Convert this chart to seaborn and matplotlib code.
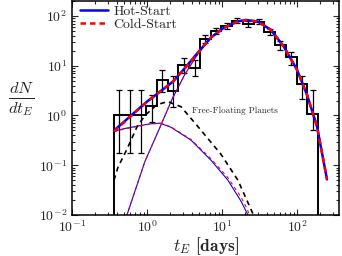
import numpy as np
import matplotlib
matplotlib.use("Agg")
import matplotlib.pyplot as plt
from matplotlib.ticker import FuncFormatter
import seaborn as sns

# binned event-timescale distribution (t_E in days)
bin_edges = [0.363, 0.505, 0.702, 0.977, 1.36, 1.89, 2.62, 3.65, 5.08, 7.06,
             9.82, 13.6, 19.0, 26.4, 36.7, 51.1, 71.0, 98.6, 137, 191]
hist_vals = [1.0, 1.0, 1.0, 1.53, 5.2, 3.06, 10.5, 9.1, 34.7, 50,
             63, 80, 69, 77, 48.5, 26, 15, 4.2, 1.05]
err_lo = [0.18, 0.18, 0.18, 0.75, 3.0, 1.45, 7.0, 6.3, 28, 43,
          55, 71, 61, 68, 42, 21, 10.5, 2.1, 0.52]
err_hi = [3.3, 3.3, 3.3, 2.6, 8.3, 6.1, 14.5, 13, 42, 58,
          71, 89, 78, 86, 56, 31, 19.3, 6.1, 3.3]

# total model
t_tot = [0.363, 0.5, 0.7, 1.0, 1.4, 2.22, 3.21, 4.79, 7.13, 10.6, 16.3,
         20.9, 30.2, 45, 67, 100, 136, 185, 251]
hot_tot = [0.50, 0.76, 1.19, 1.9, 2.8, 4.8, 9.0, 18.5, 37, 58, 78,
           83, 77, 52.5, 24, 8.3, 2.6, 0.60, 0.052]
cold_tot = [0.48, 0.74, 1.17, 1.88, 2.8, 4.8, 9.0, 18.5, 37, 58, 78,
            83, 77, 52.5, 24, 8.3, 2.6, 0.60, 0.052]

# stellar lenses
t_star = [0.45, 0.54, 0.94, 1.49, 2.15, 3.21, 4.79, 7.13, 10.6, 16.3,
          20.9, 30.2, 45, 67, 100, 136, 185, 251]
star = [0.004, 0.01, 0.12, 0.58, 2.1, 6.8, 17.5, 36.8, 57.5, 77.5,
        82.5, 76.5, 52, 24, 8.3, 2.6, 0.6, 0.052]

# low-mass component, hot / cold
t_low = [0.363, 0.51, 0.74, 1.1, 1.49, 2.09, 3.86, 7.13, 12.0, 17.9, 21.5, 25]
hot_low = [0.485, 0.55, 0.61, 0.68, 0.70, 0.58, 0.32, 0.126, 0.05, 0.019, 0.011, 0.006]
cold_low = [0.47, 0.54, 0.60, 0.67, 0.70, 0.59, 0.33, 0.135, 0.056, 0.023, 0.0135, 0.0075]

# free-floating planets
t_ffp = [0.363, 0.41, 0.54, 0.74, 0.94, 1.36, 1.9, 2.84, 4.64, 9.7, 16.3, 25.9, 30]
ffp = [0.05, 0.091, 0.21, 0.6, 1.0, 1.66, 1.9, 1.5, 0.63, 0.166, 0.05, 0.0105, 0.005]

sns.set_style("ticks")
plt.rcParams["font.family"] = ["cmr10", "DejaVu Serif"]
plt.rcParams["mathtext.fontset"] = "cm"
plt.rcParams["axes.formatter.use_mathtext"] = True

fig = plt.figure(figsize=(3.42, 2.56), dpi=100)
ax = fig.add_axes([72 / 342, 41 / 256, 267 / 342, 214 / 256])

# histogram + error bars
ax.stairs(hist_vals, bin_edges, baseline=1e-4, color="k", lw=1.4)
edges = np.array(bin_edges)
centers = np.sqrt(edges[:-1] * edges[1:])
vals = np.array(hist_vals)
yerr = [vals - np.array(err_lo), np.array(err_hi) - vals]
ax.errorbar(centers, vals, yerr=yerr, fmt="none", ecolor="k", elinewidth=0.9,
            capsize=2, capthick=0.9)

# thin component curves
sns.lineplot(x=t_star, y=star, ax=ax, color="blue", lw=0.8, sort=False)
sns.lineplot(x=t_star, y=star, ax=ax, color="red", lw=0.8, linestyle=(0, (3, 3)), sort=False)
sns.lineplot(x=t_low, y=hot_low, ax=ax, color="blue", lw=0.8, sort=False)
sns.lineplot(x=t_low, y=cold_low, ax=ax, color="red", lw=0.8, linestyle=(0, (3, 3)), sort=False)
sns.lineplot(x=t_ffp, y=ffp, ax=ax, color="k", lw=1.2, linestyle=(0, (3, 2.5)), sort=False)

# totals
sns.lineplot(x=t_tot, y=hot_tot, ax=ax, color="blue", lw=1.8, sort=False, label="Hot-Start")
sns.lineplot(x=t_tot, y=cold_tot, ax=ax, color="red", lw=1.8,
             linestyle=(0, (2.2, 1.6)), sort=False, label="Cold-Start")

ax.set_xscale("log")
ax.set_yscale("log")
ax.set_xlim(0.1, 10 ** 2.56)
ax.set_ylim(0.01, 200)

ax.text(3.98, 1.26, "Free-Floating Planets", fontsize=6.5, va="center", ha="left")

ax.legend(loc="upper left", bbox_to_anchor=(0.0, 1.02), frameon=False, fontsize=10,
          handlelength=2.0, handletextpad=0.4, labelspacing=0.05, borderaxespad=0.2)

fmt = FuncFormatter(lambda v, p: r"$\mathbf{10^{%d}}$" % int(round(np.log10(v))))
ax.xaxis.set_major_formatter(fmt)
ax.yaxis.set_major_formatter(fmt)
ax.tick_params(which="both", direction="in", top=True, right=True, labelsize=10, width=0.8)
ax.tick_params(axis="x", which="major", pad=3)
ax.tick_params(which="major", length=4)
ax.tick_params(which="minor", length=2)
for s in ax.spines.values():
    s.set_linewidth(1.1)
    s.set_color("k")

ax.set_xlabel(r"$t_E$ [days]", fontsize=12.5, family="cmb10")
ax.xaxis.set_label_coords(0.5, -0.093)
ax.xaxis.label.set_va("top")
ax.set_ylabel(r"$\frac{dN}{dt_E}$", fontsize=17, rotation=0, va="center")
ax.yaxis.set_label_coords(-0.19, 0.54)

fig.savefig("out.png", dpi=100)
